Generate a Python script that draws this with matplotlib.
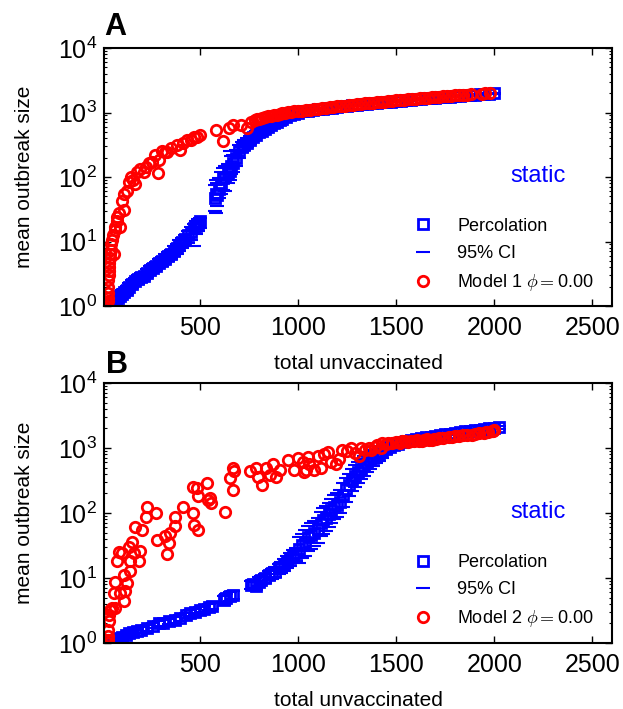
import matplotlib
matplotlib.use("Agg")
import matplotlib.pyplot as plt

plt.rcParams['font.family'] = ['Liberation Sans', 'DejaVu Sans']
plt.rcParams['mathtext.fontset'] = 'cm'

# Panel A: percolation mean, 95% CI bounds, model 1 mean
pa_x = [30, 33, 36, 40, 44, 48, 55, 62, 70, 80,
        90, 100, 110, 125, 140, 155, 170, 185, 200, 215,
        230, 245, 260, 275, 290, 305, 320, 335, 350, 365,
        380, 395, 410, 425, 440, 455, 470, 480, 490, 500,
        575, 580, 585, 595, 605, 615, 625, 640, 650, 660,
        670, 685, 700, 715, 725, 740, 755, 770, 785, 800,
        815, 830, 845, 860, 875, 890, 905, 920, 940, 960,
        980, 1000, 1025, 1050, 1075, 1100, 1125, 1150, 1175, 1200,
        1225, 1250, 1275, 1300, 1325, 1350, 1375, 1400, 1425, 1450,
        1475, 1500, 1525, 1550, 1575, 1600, 1625, 1650, 1675, 1700,
        1725, 1750, 1775, 1800, 1825, 1850, 1875, 1900, 1925, 1950,
        1975, 2000]
pa_y = [1.0, 1.02, 1.05, 1.08, 1.1, 1.12, 1.15, 1.2, 1.3, 1.35,
        1.45, 1.55, 1.65, 1.8, 2.0, 2.2, 2.4, 2.6, 2.8, 2.9,
        3.2, 3.6, 3.9, 4.2, 4.6, 5.0, 5.4, 5.9, 6.4, 7.2,
        8.0, 8.9, 9.8, 11, 12.5, 14, 16, 17.5, 19, 20.5,
        48, 55, 52, 65, 80, 95, 100, 115, 125, 150,
        165, 200, 250, 290, 310, 340, 370, 420, 450, 490,
        520, 560, 600, 650, 690, 720, 760, 800, 850, 900,
        950, 1000, 1050, 1070, 1095, 1120, 1145, 1170, 1190, 1215,
        1240, 1265, 1290, 1315, 1340, 1360, 1385, 1410, 1435, 1460,
        1480, 1505, 1530, 1555, 1575, 1600, 1625, 1650, 1670, 1695,
        1720, 1745, 1765, 1790, 1815, 1840, 1860, 1885, 1910, 1935,
        1955, 1980]
pa_lo = [1.0, 1.0, 1.0, 1.0, 1.02, 1.03, 1.05, 1.08, 1.15, 1.2,
         1.28, 1.35, 1.45, 1.55, 1.75, 1.9, 2.1, 2.2, 2.45, 2.5,
         2.8, 3.1, 3.4, 3.6, 4.0, 4.2, 4.6, 5.0, 5.4, 5.9,
         6.5, 7.2, 7.8, 8.6, 9.5, 10.5, 8.5, 13, 14.5, 16,
         30, 28, 35, 48, 55, 62, 60, 80, 90, 110,
         120, 150, 200, 240, 260, 290, 320, 370, 400, 440,
         470, 510, 550, 600, 640, 670, 710, 750, 800, 850,
         900, 950, 1000, 1020, 1045, 1070, 1095, 1120, 1140, 1165,
         1190, 1215, 1240, 1265, 1290, 1310, 1335, 1360, 1385, 1410,
         1430, 1455, 1480, 1505, 1525, 1550, 1575, 1600, 1620, 1645,
         1670, 1695, 1715, 1740, 1765, 1790, 1810, 1835, 1860, 1885,
         1905, 1930]
pa_hi = [1.05, 1.08, 1.12, 1.15, 1.2, 1.22, 1.25, 1.32, 1.45, 1.5,
         1.62, 1.75, 1.85, 2.05, 2.3, 2.5, 2.75, 3.0, 3.2, 3.3,
         3.7, 4.1, 4.5, 4.8, 5.3, 5.8, 6.3, 6.9, 7.5, 8.4,
         9.3, 10.4, 11.5, 12.8, 14.5, 16.5, 18.5, 20.5, 22, 23,
         75, 90, 80, 95, 120, 140, 150, 160, 250, 210,
         220, 260, 310, 350, 370, 400, 430, 480, 510, 550,
         580, 620, 660, 710, 740, 770, 810, 850, 900, 950,
         1000, 1050, 1100, 1120, 1145, 1170, 1195, 1220, 1240, 1265,
         1290, 1315, 1340, 1365, 1390, 1410, 1435, 1460, 1485, 1510,
         1530, 1555, 1580, 1605, 1625, 1650, 1675, 1700, 1720, 1745,
         1770, 1795, 1815, 1840, 1865, 1890, 1910, 1935, 1960, 1985,
         2005, 2030]
ma_x = [25, 27, 28, 30, 31, 32, 33, 34, 35, 36,
        38, 40, 42, 45, 48, 52, 56, 60, 65, 68,
        75, 77, 85, 90, 100, 110, 114, 125, 136, 150,
        160, 170, 178, 195, 212, 225, 237, 255, 271, 283,
        288, 305, 320, 330, 350, 381, 398, 415, 432, 455,
        470, 483, 500, 581, 615, 648, 668, 711, 740, 762,
        778, 790, 800, 815, 830, 845, 860, 875, 890, 905,
        920, 935, 950, 965, 980, 1000, 1020, 1040, 1060, 1080,
        1100, 1120, 1140, 1160, 1180, 1200, 1220, 1240, 1260, 1280,
        1300, 1320, 1340, 1360, 1380, 1400, 1420, 1440, 1460, 1480,
        1500, 1520, 1540, 1560, 1580, 1600, 1620, 1640, 1660, 1680,
        1700, 1720, 1740, 1760, 1780, 1800, 1820, 1840, 1860, 1880,
        1935, 1955, 1980]
ma_y = [1.0, 1.1, 1.2, 1.35, 1.6, 2.0, 2.5, 3.0, 3.5, 4.0,
        4.6, 5.5, 6.5, 7.5, 9, 10.5, 12.5, 6.5, 15, 17,
        21, 24, 28, 17, 42, 55, 31, 60, 85, 100,
        90, 79, 120, 135, 120, 145, 165, 170, 218, 114,
        182, 250, 240, 245, 280, 315, 265, 340, 370, 380,
        410, 420, 445, 540, 360, 570, 650, 650, 580, 720,
        760, 780, 800, 820, 850, 870, 890, 910, 930, 950,
        970, 990, 1010, 1030, 1050, 1040, 1060, 1080, 1100, 1120,
        1140, 1160, 1180, 1200, 1220, 1240, 1260, 1280, 1300, 1320,
        1340, 1360, 1380, 1400, 1420, 1440, 1460, 1480, 1500, 1520,
        1540, 1560, 1580, 1600, 1620, 1640, 1660, 1680, 1700, 1720,
        1740, 1760, 1780, 1800, 1820, 1840, 1860, 1880, 1900, 1920,
        1960, 1980, 2000]

# Panel B: percolation mean, 95% CI bounds, model 2 mean
pb_x = [35, 40, 45, 55, 70, 85, 100, 120, 140, 160,
        180, 200, 230, 260, 290, 313, 340, 370, 400, 430,
        450, 475, 500, 520, 545, 560, 620, 630, 650, 670,
        760, 770, 787, 800, 812, 830, 850, 865, 880, 900,
        915, 930, 945, 960, 975, 990, 1005, 1020, 1035, 1050,
        1065, 1080, 1100, 1115, 1125, 1140, 1155, 1170, 1185, 1200,
        1215, 1230, 1245, 1260, 1275, 1290, 1305, 1320, 1335, 1350,
        1365, 1380, 1395, 1410, 1430, 1450, 1470, 1490, 1510, 1530,
        1550, 1575, 1600, 1625, 1650, 1675, 1700, 1725, 1750, 1775,
        1800, 1825, 1850, 1875, 1900, 1925, 1950, 1975, 2000, 2025]
pb_y = [1.0, 1.02, 1.04, 1.07, 1.12, 1.18, 1.25, 1.33, 1.4, 1.48,
        1.53, 1.6, 1.7, 1.85, 2.0, 2.05, 2.15, 2.25, 2.45, 2.65,
        2.9, 3.0, 3.2, 3.3, 3.6, 3.7, 4.6, 4.9, 5.2, 5.5,
        7.9, 8.2, 7.6, 8.8, 9.3, 10, 11, 11.8, 12.5, 14,
        15, 16.5, 18, 20, 22, 24, 28, 32, 36, 42,
        46, 50, 56, 70, 78, 85, 95, 110, 125, 135,
        150, 190, 230, 270, 320, 370, 420, 470, 520, 580,
        650, 700, 760, 800, 870, 950, 1030, 1110, 1170, 1230,
        1280, 1330, 1380, 1420, 1460, 1500, 1550, 1590, 1630, 1670,
        1720, 1760, 1800, 1840, 1880, 1920, 1960, 2000, 2040, 2070]
pb_lo = [1.0, 1.0, 1.0, 1.02, 1.05, 1.1, 1.15, 1.22, 1.28, 1.35,
         1.4, 1.45, 1.55, 1.68, 1.8, 1.85, 1.95, 2.02, 2.2, 2.4,
         2.6, 2.7, 2.85, 2.95, 3.2, 3.3, 3.9, 4.2, 4.5, 4.7,
         6.8, 7.0, 6.5, 7.5, 8.0, 8.5, 9.2, 9.8, 10.5, 11.5,
         12, 13, 14, 15.5, 17, 18, 17, 20, 22, 26,
         28, 31, 35, 44, 48, 53, 60, 70, 80, 88,
         100, 125, 150, 180, 215, 250, 290, 330, 370, 420,
         480, 530, 590, 640, 710, 800, 910, 990, 1060, 1120,
         1180, 1230, 1280, 1330, 1370, 1410, 1460, 1500, 1540, 1580,
         1630, 1670, 1710, 1750, 1790, 1830, 1870, 1910, 1950, 1980]
pb_hi = [1.05, 1.08, 1.1, 1.14, 1.2, 1.27, 1.35, 1.45, 1.52, 1.6,
         1.66, 1.75, 1.86, 2.02, 2.2, 2.25, 2.36, 2.48, 2.7, 2.92,
         3.2, 3.3, 3.55, 3.65, 4.0, 4.1, 5.3, 5.6, 6.0, 6.3,
         9.0, 9.4, 8.8, 10.2, 10.8, 11.6, 12.8, 13.8, 14.6, 16.5,
         17.8, 19.5, 21.5, 24, 26.5, 29, 42, 48, 55, 63,
         70, 76, 85, 105, 118, 128, 145, 165, 190, 205,
         225, 285, 340, 400, 470, 540, 610, 680, 740, 810,
         880, 930, 980, 1010, 1060, 1110, 1130, 1200, 1260, 1320,
         1370, 1420, 1470, 1510, 1550, 1590, 1640, 1680, 1720, 1760,
         1810, 1850, 1890, 1930, 1970, 2010, 2050, 2090, 2130, 2160]
mb_x = [30, 31, 32, 33, 34, 36, 40, 45, 52, 60,
        68, 68, 77, 85, 94, 102, 110, 110, 119, 128,
        136, 145, 145, 153, 161, 170, 187, 195, 204, 226,
        229, 276, 280, 322, 330, 339, 347, 372, 372, 412,
        466, 471, 488, 466, 483, 491, 533, 542, 550, 558,
        626, 651, 668, 672, 668, 753, 787, 795, 817, 838,
        854, 871, 888, 905, 947, 981, 998, 1023, 1032, 1040,
        1049, 1057, 1083, 1099, 1116, 1150, 1167, 1193, 1226, 1269,
        1311, 1320, 1362, 1370, 1400, 1429, 1450, 1480, 1500, 1531,
        1560, 1590, 1615, 1640, 1665, 1691, 1720, 1767, 1800, 1840,
        1885, 1920, 1945, 1970, 1987, 2000, 1130, 1210, 1250, 1290,
        1340, 1390, 1420, 1460, 1520, 1545, 1575, 1605, 1630, 1655,
        1680, 1705, 1740, 1785, 1820, 1860, 1900, 1960, 1995]
mb_y = [1.0, 1.1, 1.3, 1.6, 2.2, 2.7, 3.2, 3.2, 3.5, 5.8,
        8.7, 3.5, 18, 25, 5.9, 24, 4.4, 11, 6.2, 8.3,
        30, 18, 13, 36, 24, 61, 18, 26, 55, 88,
        125, 100, 38, 44, 23, 34, 49, 63, 88, 125,
        99, 66, 55, 250, 240, 180, 290, 160, 170, 140,
        105, 340, 490, 440, 225, 435, 490, 360, 270, 490,
        380, 575, 360, 460, 660, 460, 700, 615, 430, 460,
        720, 575, 460, 740, 490, 870, 615, 575, 940, 1000,
        760, 1000, 1000, 940, 1100, 1180, 1150, 1180, 1220, 1260,
        1240, 1300, 1260, 1320, 1350, 1380, 1420, 1480, 1520, 1560,
        1610, 1680, 1730, 1790, 1850, 1870, 800, 680, 900, 850,
        920, 1050, 1000, 1200, 1200, 1280, 1290, 1330, 1300, 1370,
        1350, 1400, 1440, 1500, 1540, 1590, 1630, 1760, 1830]

BLUE = '#0000ff'
RED = '#ff0000'


def draw_panel(ax, px, py, plo, phi, mx, my, model_label):
    ax.plot(px, py, ls='none', marker='s', ms=7, mfc='none', mec=BLUE,
            mew=2, label='Percolation')
    ax.plot(px, plo, ls='none', marker='_', ms=10, mec=BLUE, mew=1.5,
            label='95% CI')
    ax.plot(px, phi, ls='none', marker='_', ms=10, mec=BLUE, mew=1.5)
    ax.plot(mx, my, ls='none', marker='o', ms=7.5, mfc='none', mec=RED,
            mew=2, label=model_label)

    ax.set_yscale('log')
    ax.set_ylim(1, 1e4)
    ax.set_xlim(10, 2600)
    ax.set_xticks([500, 1000, 1500, 2000, 2500])
    ax.tick_params(which='both', direction='in', top=True, right=True)
    ax.tick_params(which='major', length=5, width=1, labelsize=18)
    ax.tick_params(axis='x', which='major', pad=7)
    ax.tick_params(axis='y', which='major', pad=5)
    ax.tick_params(which='minor', length=2.5, width=0.8)
    for sp in ax.spines.values():
        sp.set_linewidth(1.5)

    ax.set_xlabel('total unvaccinated', fontsize=15)
    ax.set_ylabel('mean outbreak size', fontsize=15)
    ax.xaxis.set_label_coords(0.5, -0.185)
    ax.yaxis.set_label_coords(-0.138, 0.5)

    ax.text(0.854, 0.505, 'static', color=BLUE, fontsize=17,
            ha='center', va='center', transform=ax.transAxes)
    ax.legend(loc='upper left', bbox_to_anchor=(0.61, 0.342), frameon=False,
              fontsize=13, numpoints=1, handlelength=1.0, handletextpad=1.4,
              labelspacing=0.56, borderpad=0, borderaxespad=0)


fig = plt.figure(figsize=(6.23, 7.09), dpi=100)
ax_a = fig.add_axes([0.1669, 0.5684, 0.8154, 0.3639])
ax_b = fig.add_axes([0.1669, 0.0931, 0.8154, 0.3667])

draw_panel(ax_a, pa_x, pa_y, pa_lo, pa_hi, ma_x, ma_y, r'Model 1 $\phi=$0.00')
draw_panel(ax_b, pb_x, pb_y, pb_lo, pb_hi, mb_x, mb_y, r'Model 2 $\phi=$0.00')

fig.text(0.167, 1 - 35 / 709, 'A', fontsize=22, fontweight='bold', va='baseline')
fig.text(0.170, 1 - 373 / 709, 'B', fontsize=22, fontweight='bold', va='baseline')

fig.savefig('out.png', dpi=100)
